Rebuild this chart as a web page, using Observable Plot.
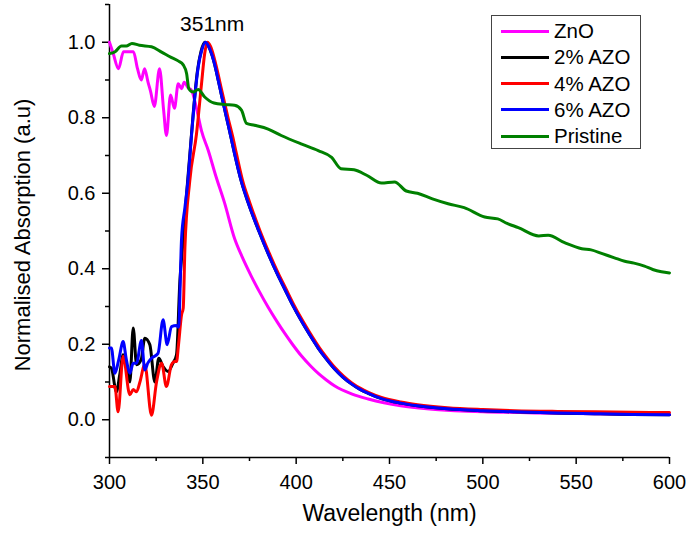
<!DOCTYPE html>
<html>
<head>
<meta charset="utf-8">
<script src="https://cdn.jsdelivr.net/npm/d3@7"></script>
<script src="https://cdn.jsdelivr.net/npm/@observablehq/plot@0.6"></script>
<style>
  html, body { margin: 0; padding: 0; background: #fff; }
  #wrap { position: relative; width: 692px; height: 535px; font-family: "Liberation Sans", Arial, sans-serif; }
  #legend { position: absolute; left: 491px; top: 15px; width: 148px; height: 132px; border: 1px solid #444; background: #fff; box-sizing: content-box; }
  .row { position: absolute; left: 0; height: 26px; display: flex; align-items: center; }
  .sw { width: 48px; height: 3px; margin-left: 9px; margin-right: 5px; }
  .lab { font-size: 20.5px; color: #000; white-space: nowrap; }
</style>
</head>
<body>
<div id="wrap"></div>
<script>
// ---- data ----
const seriesNames = ["ZnO", "2% AZO", "4% AZO", "6% AZO", "Pristine"];
const seriesColors = ["#FF00FF", "#000000", "#FF0000", "#0000FF", "#008000"];

const znoWl = [300,302,304.8,307.5,310,312.8,315,317,318.8,320.6,322,324,326.8,329,330.5,332.7,334.8,336.8,338.6,340,342,344,346.6,349.3,353,357,361.6,367,371,376,380,385,390,394,398,403,408,412,416,420.5,430,438.6,447,456,470,485,500,520,540,560,580,600];
const znoVal = [1.0,0.97,0.93,0.975,0.975,0.975,0.93,0.9,0.93,0.895,0.87,0.83,0.93,0.82,0.753,0.86,0.825,0.89,0.877,0.894,0.88,0.872,0.825,0.765,0.712,0.645,0.575,0.48,0.432,0.38,0.342,0.298,0.258,0.228,0.2,0.168,0.141,0.122,0.106,0.09,0.068,0.055,0.045,0.037,0.029,0.024,0.021,0.019,0.017,0.016,0.015,0.014];

const azo2Wl = [300,301,303.7,305.5,307.3,309,310.9,312.7,314.5,317,318.9,321.6,324.3,326.4,328.7,331.4,334,335.9,337.7,339.5,341,343,345,347,349,351,353,355,356.4,358,360,362.7,365,367,370.7,374.3,380,385,390,394,398,403,407,411.8,416,420.5,425,429.6,434,438.6,445.7,456,465,481,500,517,540,560,580,600];
const azo2Val = [0.14,0.137,0.074,0.12,0.172,0.14,0.1,0.243,0.146,0.16,0.216,0.199,0.1,0.163,0.141,0.128,0.15,0.172,0.367,0.48,0.58,0.70,0.82,0.92,0.975,1.0,0.99,0.965,0.94,0.905,0.86,0.80,0.75,0.705,0.63,0.575,0.50,0.44,0.385,0.345,0.305,0.26,0.227,0.19,0.162,0.135,0.113,0.095,0.081,0.07,0.056,0.044,0.037,0.029,0.024,0.021,0.018,0.016,0.014,0.013];

const azo4Wl = [300,301,302.9,304.6,307.3,310.9,312.7,314.5,316.3,318.9,322.5,325.2,327.9,330.5,333.2,335,335.9,337,338.6,339.5,340.4,343,346.6,349.3,351,352.5,354,356,357.5,360,363.5,366,368,371.5,375,380.5,385.5,390.5,394.5,398.5,403.5,407.5,412.3,416.5,421,425.5,430,434.5,439,445.7,456,465,481,500,517,540,560,580,600];
const azo4Val = [0.088,0.088,0.088,0.021,0.168,0.066,0.08,0.074,0.1,0.146,0.012,0.1,0.15,0.088,0.146,0.154,0.154,0.2,0.278,0.296,0.455,0.633,0.757,0.89,0.97,1.0,0.99,0.96,0.93,0.875,0.80,0.75,0.705,0.63,0.577,0.502,0.442,0.387,0.347,0.307,0.262,0.229,0.192,0.164,0.137,0.115,0.097,0.083,0.072,0.059,0.047,0.04,0.032,0.027,0.024,0.022,0.021,0.02,0.019];

const azo6Wl = [300,301,302.9,305,307.3,309,310.9,312.7,314.5,317.1,318.9,320.5,322.5,326,328.7,330.9,333.2,335.9,337,338.6,340.4,342,344,346,347.5,349.5,351.4,353,355,356.4,358,360,362.7,365,367,370.7,374.3,380,385,390,394,398,403,407,411.8,416,420.5,425,429.6,434,438.6,445.7,456,465,481,500,517,540,560,580,600];
const azo6Val = [0.19,0.19,0.123,0.16,0.207,0.16,0.123,0.15,0.15,0.21,0.132,0.15,0.163,0.176,0.265,0.199,0.247,0.25,0.245,0.48,0.562,0.633,0.757,0.87,0.934,0.98,1.0,0.99,0.965,0.94,0.905,0.86,0.80,0.75,0.705,0.63,0.575,0.50,0.44,0.385,0.345,0.305,0.26,0.227,0.19,0.162,0.135,0.113,0.095,0.081,0.07,0.056,0.044,0.037,0.029,0.024,0.021,0.018,0.016,0.014,0.013];

const pristWl = [300,303,306.4,309,312,316,322.5,327.9,333,337,339.5,341.3,342.5,344.8,347.5,351,356,361.8,367,370.7,373.4,377.7,385,392,403,411.8,419,424,431,438,445.7,452.7,459,465,473,481.4,490,501,508,513,519,530,535,543.8,553,558,564,570.5,576,581,586.6,591,595.7,600];
const pristVal = [0.97,0.975,0.99,0.99,0.997,0.992,0.988,0.974,0.96,0.95,0.94,0.917,0.877,0.868,0.875,0.855,0.839,0.835,0.833,0.82,0.785,0.78,0.77,0.753,0.73,0.713,0.695,0.665,0.662,0.647,0.627,0.63,0.606,0.60,0.585,0.572,0.562,0.537,0.532,0.52,0.509,0.487,0.489,0.469,0.453,0.45,0.44,0.429,0.42,0.415,0.407,0.398,0.392,0.389];

const xMajor = [300,350,400,450,500,550,600];
const xMinor = [325,375,425,475,525,575];
const yMajor = [0.0,0.2,0.4,0.6,0.8,1.0];
const yMinor = [-0.1,0.1,0.3,0.5,0.7,0.9,1.1];
const peakLabel = {wl: 355, v: 1.048, text: "351nm"};

// ---- build table ----
const wlSets = [znoWl, azo2Wl, azo4Wl, azo6Wl, pristWl];
const valSets = [znoVal, azo2Val, azo4Val, azo6Val, pristVal];
const rows = [];
seriesNames.forEach((name, i) => {
  wlSets[i].forEach((w, j) => rows.push({series: name, wl: w, v: valSets[i][j]}));
});

const font = "'Liberation Sans', Arial, sans-serif";

const chart = Plot.plot({
  width: 692,
  height: 535,
  marginLeft: 109,
  marginRight: 23,
  marginTop: 4,
  marginBottom: 78,
  style: {fontFamily: font, fontSize: "20px", color: "#000", background: "#fff", overflow: "visible"},
  x: {domain: [300, 600]},
  y: {domain: [-0.1, 1.1]},
  color: {domain: seriesNames, range: seriesColors},
  marks: [
    Plot.axisX({ticks: xMajor, tickSize: 7, tickPadding: 10, tickFormat: d3.format("d"), label: null, strokeWidth: 1.5}),
    Plot.axisX({ticks: xMinor, tickSize: 4, tickFormat: () => "", label: null, strokeWidth: 1.5}),
    Plot.axisY({ticks: yMajor, tickSize: 7, tickPadding: 7, tickFormat: d3.format(".1f"), label: null, strokeWidth: 1.5}),
    Plot.axisY({ticks: yMinor, tickSize: 4, tickFormat: () => "", label: null, strokeWidth: 1.5}),
    Plot.ruleX([300], {y1: -0.1, y2: 1.1, strokeWidth: 1.5}),
    Plot.ruleY([-0.1], {x1: 300, x2: 600, strokeWidth: 1.5}),
    Plot.line(rows, {x: "wl", y: "v", z: "series", stroke: "series", strokeWidth: 3, strokeLinejoin: "round", curve: "monotone-x"}),
    Plot.text([peakLabel], {x: "wl", y: "v", text: "text", fontSize: 21, fill: "#000"}),
    Plot.text(["Wavelength (nm)"], {frameAnchor: "bottom", dy: 63, fontSize: 23, fill: "#000"}),
    Plot.text(["Normalised Absorption (a.u)"], {frameAnchor: "left", textAnchor: "middle", rotate: -90, dx: -87, dy: 4, fontSize: 22, fill: "#000"})
  ]
});

const wrap = document.getElementById("wrap");
wrap.appendChild(chart);

// legend overlay
const legend = document.createElement("div");
legend.id = "legend";
seriesNames.forEach((name, i) => {
  const row = document.createElement("div");
  row.className = "row";
  row.style.top = (2 + i * 26.3) + "px";
  const sw = document.createElement("div");
  sw.className = "sw";
  sw.style.background = seriesColors[i];
  const lab = document.createElement("span");
  lab.className = "lab";
  lab.textContent = name;
  row.appendChild(sw);
  row.appendChild(lab);
  legend.appendChild(row);
});
wrap.appendChild(legend);
</script>
</body>
</html>
